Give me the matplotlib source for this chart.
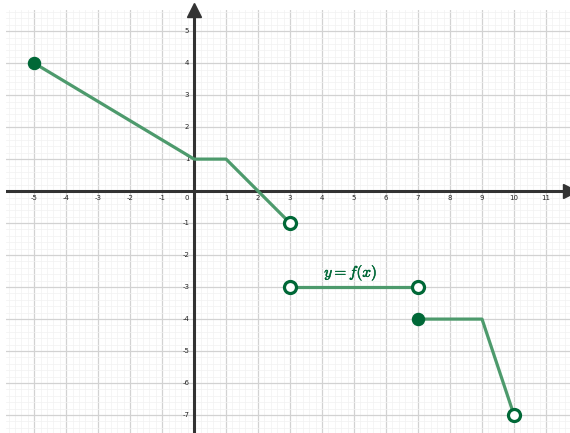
import matplotlib.pyplot as plt
import matplotlib.patheffects as pe
import numpy as np

# ── Data ──────────────────────────────────────────────────────────────────────

# piecewise segments of y = f(x)
seg1_x = [-5, 0, 1, 3]
seg1_y = [4, 1, 1, -1]
seg2_x = [3, 7]
seg2_y = [-3, -3]
seg3_x = [7, 9, 10]
seg3_y = [-4, -4, -7]

closed_x = [-5, 7]
closed_y = [4, -4]
open_x = [3, 3, 7, 10]
open_y = [-1, -3, -3, -7]

x_ticks = [-5, -4, -3, -2, -1, 1, 2, 3, 4, 5, 6, 7, 8, 9, 10, 11]
y_ticks = [-7, -6, -5, -4, -3, -2, -1, 1, 2, 3, 4, 5]

# ── Style ─────────────────────────────────────────────────────────────────────

LINE_COLOR = "#4d9a6c"
DOT_COLOR = "#006837"
AXIS_COLOR = "#333333"

X_MIN, X_MAX = -5.88, 11.75
Y_MIN, Y_MAX = -7.56, 5.66

plt.rcParams["mathtext.fontset"] = "cm"

fig = plt.figure(figsize=(5.7, 4.33), dpi=100)
ax = fig.add_axes([6 / 570, 0, 564 / 570, 423 / 433])
ax.set_xlim(X_MIN, X_MAX)
ax.set_ylim(Y_MIN, Y_MAX)

# grid
ax.set_xticks(np.arange(-5, 12, 1))
ax.set_yticks(np.arange(-7, 6, 1))
ax.set_xticks(np.arange(-5.8, 11.8, 0.2), minor=True)
ax.set_yticks(np.arange(-7.4, 5.8, 0.2), minor=True)
ax.grid(True, which="major", color="#d2d2d2", linewidth=0.9, zorder=0)
ax.grid(True, which="minor", color="#f1f1f1", linewidth=0.5, zorder=0)
ax.set_axisbelow(True)
ax.tick_params(which="both", length=0, labelbottom=False, labelleft=False)
for s in ax.spines.values():
    s.set_visible(False)

# axes with arrows
ax.axhline(0, color=AXIS_COLOR, linewidth=2.2, zorder=2)
ax.axvline(0, color=AXIS_COLOR, linewidth=2.2, zorder=2)
ax.plot(1, 0, ">", color=AXIS_COLOR, markersize=10, transform=ax.get_yaxis_transform(),
        clip_on=False, zorder=3)
ax.plot(0, 1, "^", color=AXIS_COLOR, markersize=10, transform=ax.get_xaxis_transform(),
        clip_on=False, zorder=3)

# tick labels
for v in x_ticks:
    ax.text(v, -0.12, str(v), ha="center", va="top", fontsize=5, color="#222")
for v in y_ticks:
    ax.text(-0.15, v, str(v), ha="right", va="center", fontsize=5, color="#222")
ax.text(-0.15, -0.12, "0", ha="right", va="top", fontsize=5, color="#222")

# function
for xs, ys in [(seg1_x, seg1_y), (seg2_x, seg2_y), (seg3_x, seg3_y)]:
    ax.plot(xs, ys, color=LINE_COLOR, linewidth=2.3, zorder=4, solid_capstyle="round")

ax.scatter(closed_x, closed_y, s=75, color=DOT_COLOR, zorder=5)
ax.scatter(open_x, open_y, s=75, facecolor="white", edgecolor=DOT_COLOR,
           linewidth=2.3, zorder=5)

ax.text(4.9, -2.55, r"$y = f(x)$", ha="center", va="center", fontsize=11,
        color=DOT_COLOR,
        path_effects=[pe.withStroke(linewidth=0.35, foreground=DOT_COLOR)])

fig.savefig("out.png", dpi=100)
